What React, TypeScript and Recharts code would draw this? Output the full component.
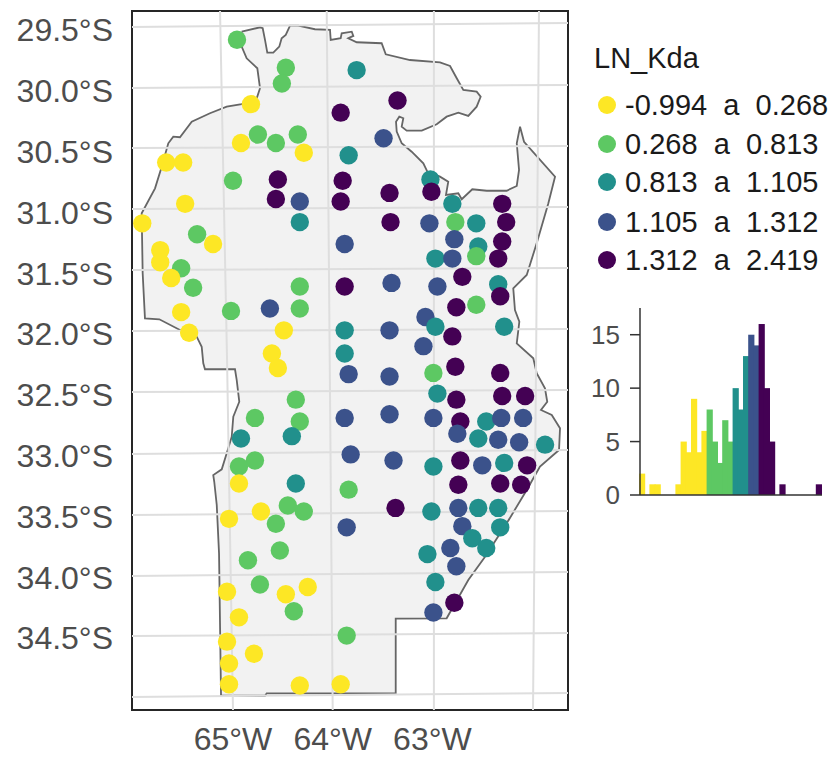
import { Bar, BarChart, Cell, ReferenceArea, Scatter, ScatterChart, XAxis, YAxis } from "recharts";

const FONT = "'Liberation Sans', Arial, sans-serif";
const AXIS_TEXT = "#4d4d4d";

const binColors = ["#FDE725", "#5DC863", "#21908C", "#3B528B", "#440154"];
const binLabels = ["-0.994  a  0.268", "0.268  a  0.813", "0.813  a  1.105", "1.105  a  1.312", "1.312  a  2.419"];

const latTicks = [-29.5, -30, -30.5, -31, -31.5, -32, -32.5, -33, -33.5, -34, -34.5];
const lonTicks = [-65, -64, -63];

// lon, lat, bin - in drawing order
const stations: [number, number, number][] = [
  [-64.96, -29.58, 1], [-64.47, -29.81, 1], [-64.51, -29.94, 1], [-64.82, -30.11, 0], [-63.92, -30.18, 4],
  [-64.75, -30.36, 1], [-64.92, -30.43, 0], [-64.57, -30.43, 1], [-64.35, -30.36, 1], [-64.29, -30.51, 0],
  [-63.84, -30.53, 2], [-65.67, -30.59, 0], [-65.5, -30.59, 0], [-65.0, -30.74, 1], [-64.55, -30.73, 4],
  [-63.9, -30.74, 4], [-64.57, -30.89, 4], [-64.33, -30.91, 3], [-63.92, -30.91, 4], [-65.48, -30.93, 0],
  [-64.33, -31.08, 2], [-65.91, -31.09, 0], [-65.36, -31.18, 1], [-65.2, -31.26, 0], [-63.88, -31.26, 3],
  [-65.73, -31.31, 0], [-65.52, -31.46, 1], [-65.73, -31.41, 0], [-65.62, -31.54, 0], [-65.4, -31.62, 1],
  [-64.33, -31.61, 1], [-63.88, -31.61, 4], [-65.52, -31.82, 0], [-65.02, -31.81, 1], [-64.63, -31.79, 3],
  [-64.33, -31.79, 1], [-63.88, -31.97, 2], [-65.44, -31.99, 0], [-64.49, -31.97, 0], [-64.61, -32.16, 0],
  [-63.88, -32.16, 2], [-63.76, -29.83, 2], [-63.35, -30.08, 4], [-63.49, -30.39, 3], [-63.02, -30.73, 2],
  [-63.01, -30.83, 4], [-63.43, -30.84, 4], [-62.8, -30.93, 2], [-62.3, -30.93, 4], [-63.42, -31.08, 4],
  [-63.03, -31.09, 3], [-62.77, -31.08, 1], [-62.56, -31.09, 2], [-62.26, -31.08, 4], [-62.78, -31.22, 3],
  [-62.3, -31.24, 4], [-62.54, -31.28, 2], [-62.97, -31.38, 2], [-62.8, -31.38, 3], [-62.56, -31.36, 1],
  [-62.34, -31.38, 4], [-62.7, -31.53, 4], [-63.41, -31.58, 3], [-62.95, -31.61, 3], [-62.34, -31.59, 2],
  [-62.32, -31.69, 4], [-62.76, -31.78, 4], [-62.56, -31.76, 1], [-63.07, -31.86, 3], [-62.97, -31.94, 2],
  [-62.28, -31.94, 2], [-63.43, -31.97, 3], [-62.8, -32.02, 4], [-63.09, -32.1, 3], [-64.55, -32.28, 0],
  [-63.84, -32.33, 3], [-64.37, -32.54, 1], [-63.88, -32.69, 3], [-64.78, -32.69, 1], [-64.33, -32.72, 1],
  [-64.92, -32.86, 2], [-64.41, -32.84, 2], [-63.82, -32.99, 3], [-64.78, -33.04, 1], [-64.94, -33.09, 1],
  [-64.94, -33.23, 0], [-64.37, -33.23, 2], [-63.84, -33.28, 1], [-64.45, -33.41, 1], [-64.29, -33.46, 1],
  [-64.72, -33.46, 0], [-65.04, -33.52, 0], [-64.57, -33.56, 1], [-63.86, -33.59, 3], [-64.53, -33.78, 1],
  [-64.85, -33.86, 1], [-64.73, -34.06, 1], [-64.25, -34.08, 0], [-64.47, -34.14, 0], [-65.06, -34.12, 0],
  [-64.39, -34.28, 1], [-64.94, -34.33, 0], [-63.86, -34.48, 1], [-65.06, -34.53, 0], [-64.79, -34.63, 0],
  [-65.04, -34.71, 0], [-65.04, -34.88, 0], [-64.33, -34.89, 0], [-63.92, -34.88, 0], [-63.43, -32.35, 3],
  [-62.99, -32.32, 1], [-62.77, -32.27, 4], [-62.32, -32.32, 4], [-62.95, -32.49, 2], [-62.76, -32.54, 4],
  [-62.3, -32.51, 4], [-62.07, -32.51, 4], [-63.43, -32.66, 3], [-62.99, -32.69, 3], [-62.72, -32.72, 4],
  [-62.46, -32.72, 2], [-62.31, -32.69, 3], [-62.09, -32.69, 3], [-62.75, -32.82, 3], [-62.54, -32.86, 2],
  [-62.34, -32.87, 3], [-62.13, -32.89, 3], [-61.87, -32.91, 2], [-63.39, -33.04, 3], [-62.72, -33.04, 4],
  [-62.5, -33.08, 3], [-62.28, -33.06, 2], [-62.05, -33.08, 4], [-62.99, -33.09, 2], [-62.74, -33.24, 4],
  [-62.32, -33.23, 4], [-62.11, -33.24, 4], [-63.37, -33.43, 4], [-63.01, -33.46, 2], [-62.74, -33.43, 3],
  [-62.54, -33.43, 2], [-62.34, -33.43, 2], [-62.7, -33.58, 3], [-62.32, -33.59, 2], [-62.6, -33.68, 2],
  [-62.82, -33.76, 3], [-62.46, -33.76, 2], [-63.05, -33.81, 2], [-62.76, -33.91, 3], [-62.97, -34.04, 2],
  [-62.78, -34.21, 4], [-62.99, -34.29, 3],
];

// province outline, clockwise from the north-west corner
const outline: [number, number][] = [
  [-64.913, -29.514], [-64.729, -29.478], [-64.702, -29.486], [-64.679, -29.582], [-64.656, -29.687],
  [-64.596, -29.687], [-64.536, -29.637], [-64.512, -29.568], [-64.471, -29.541], [-64.428, -29.465],
  [-64.345, -29.465], [-64.178, -29.494], [-64.027, -29.5], [-64.02, -29.582], [-63.92, -29.568],
  [-63.91, -29.527], [-63.809, -29.514], [-63.793, -29.549], [-63.844, -29.568], [-63.759, -29.601],
  [-63.509, -29.609], [-63.468, -29.7], [-63.225, -29.747], [-62.924, -29.766], [-62.823, -29.796],
  [-62.756, -29.897], [-62.69, -29.993], [-62.556, -30.007], [-62.516, -30.049], [-62.556, -30.131],
  [-62.64, -30.207], [-62.74, -30.18], [-62.857, -30.213], [-62.957, -30.276], [-63.107, -30.328],
  [-63.258, -30.328], [-63.308, -30.295], [-63.292, -30.226], [-63.332, -30.213], [-63.365, -30.254],
  [-63.358, -30.336], [-63.308, -30.432], [-63.208, -30.501], [-63.091, -30.596], [-63.051, -30.665],
  [-62.924, -30.706], [-62.841, -30.748], [-62.864, -30.857], [-62.74, -30.843], [-62.706, -30.892],
  [-62.6, -30.81], [-62.455, -30.822], [-62.255, -30.822], [-62.154, -30.783], [-62.131, -30.651],
  [-62.154, -30.432], [-62.121, -30.295], [-62.081, -30.419], [-61.77, -30.706], [-61.837, -30.925],
  [-61.954, -31.254], [-62.054, -31.515], [-62.189, -31.624], [-62.172, -31.803], [-62.128, -31.899],
  [-62.154, -32.077], [-61.988, -32.2], [-61.954, -32.323], [-61.871, -32.447], [-61.848, -32.557],
  [-61.911, -32.625], [-61.803, -32.666], [-61.72, -32.776], [-61.73, -32.954], [-61.921, -33.091],
  [-62.054, -33.283], [-62.255, -33.557], [-62.472, -33.832], [-62.64, -34.023], [-62.857, -34.338],
  [-63.368, -34.341], [-63.368, -34.955], [-64.662, -34.955], [-64.679, -34.975], [-65.12, -34.975],
  [-65.14, -33.804], [-65.163, -33.406], [-65.188, -33.215], [-65.198, -33.16], [-65.113, -33.113],
  [-65.063, -32.981], [-65.013, -32.845], [-64.997, -32.68], [-64.937, -32.557], [-64.963, -32.378],
  [-64.98, -32.29], [-65.281, -32.29], [-65.298, -32.241], [-65.314, -32.105], [-65.364, -32.022],
  [-65.532, -31.967], [-65.739, -31.879], [-65.883, -31.871], [-65.906, -31.501], [-65.916, -31.007],
  [-65.782, -30.802], [-65.715, -30.624], [-65.649, -30.432], [-65.599, -30.377], [-65.532, -30.382],
  [-65.414, -30.254], [-65.231, -30.185], [-65.063, -30.131], [-64.913, -30.109], [-64.762, -30.062],
  [-64.729, -29.979], [-64.756, -29.815], [-64.863, -29.733], [-64.913, -29.637], [-64.913, -29.514],
];

const lonDomain: [number, number] = [-66.013, -61.64];
const latDomain: [number, number] = [-35.092, -29.344];

// graticule as drawn in the picture: parallels [lat at west edge, lat at east edge]
const parallels: [number, number][] = [
  [-29.475, -29.442], [-29.977, -29.952], [-30.47, -30.454], [-30.972, -30.956], [-31.474, -31.457],
  [-31.975, -31.959], [-32.477, -32.461], [-32.987, -32.954], [-33.489, -33.456], [-33.99, -33.957],
  [-34.484, -34.459], [-34.985, -34.952],
];
// meridians [lon at top, lon at middle, lon at bottom]
const meridians: [number, number, number][] = [
  [-65.13, -65.06, -65.0],
  [-64.06, -64.03, -64.0],
  [-62.985, -62.985, -62.985],
  [-61.931, -61.96, -61.991],
];

const histCounts = [2, 0, 1, 1, 0, 0, 0, 1, 5, 4, 9, 4, 6, 8, 5, 3, 7, 5, 10, 8, 13, 15, 14, 16, 10, 5, 0, 1, 0, 0, 0, 0, 0, 0, 1];
const histBins = [0, 0, 0, 0, 0, 0, 0, 0, 0, 0, 0, 0, 0, 1, 1, 1, 1, 1, 2, 2, 2, 3, 3, 4, 4, 4, 4, 4, 4, 4, 4, 4, 4, 4, 4];
const histTicks = [0, 5, 10, 15];

const stationRows = stations.map(([lon, lat, bin]) => ({ lon, lat, bin }));
const outlineRows = outline.map(([lon, lat]) => ({ lon, lat }));
const histRows = histCounts.map((count, i) => ({ i, count }));

const gridStyle = { stroke: "#dedede", strokeWidth: 2 };

const StationDot = (props: any) => (
  <circle cx={props.cx} cy={props.cy} r={9.2} fill={binColors[props.payload.bin]} />
);
const NoDot = () => null;

// bars are narrower than the band after rounding, so close the seams
const HistBar = (props: any) => (
  <rect x={props.x - 1} y={props.y} width={props.width + 1.2} height={props.height} fill={props.fill} />
);

export default function App() {
  return (
    <div style={{ position: "absolute", left: 0, top: 0, width: 831, height: 758, background: "#fff", fontFamily: FONT, overflow: "hidden" }}>
      <ScatterChart width={831} height={758} margin={{ top: 11, right: 263, bottom: 0, left: 0 }} style={{ position: "absolute", left: 0, top: 0 }}>
        <XAxis
          type="number"
          dataKey="lon"
          domain={lonDomain}
          ticks={lonTicks}
          allowDataOverflow
          height={48}
          axisLine={false}
          tickLine={false}
          tickSize={0}
          tickMargin={17}
          tick={{ fill: AXIS_TEXT, fontSize: 32, fontFamily: FONT }}
          tickFormatter={(v: number) => `${Math.abs(v)}°W`}
          interval={0}
        />
        <YAxis
          type="number"
          dataKey="lat"
          domain={latDomain}
          ticks={latTicks}
          allowDataOverflow
          width={132}
          axisLine={false}
          tickLine={false}
          tickSize={0}
          tickMargin={19}
          tick={{ fill: AXIS_TEXT, fontSize: 32, fontFamily: FONT }}
          tickFormatter={(v: number) => `${Math.abs(v).toFixed(1)}°S`}
          interval={0}
        />
        <Scatter data={outlineRows} isAnimationActive={false} shape={NoDot} line={{ stroke: "#666", strokeWidth: 1.8, fill: "#f2f2f2" }} lineType="joint" />
        {parallels.map(([west, east], i) => (
          <Scatter
            key={`p${i}`}
            data={[{ lon: lonDomain[0], lat: west }, { lon: lonDomain[1], lat: east }]}
            isAnimationActive={false}
            shape={NoDot}
            line={gridStyle}
            lineType="joint"
          />
        ))}
        {meridians.map(([top, mid, bottom], i) => (
          <Scatter
            key={`m${i}`}
            data={[{ lon: top, lat: latDomain[1] }, { lon: mid, lat: -32.2 }, { lon: bottom, lat: latDomain[0] }]}
            isAnimationActive={false}
            shape={NoDot}
            line={gridStyle}
            lineType="joint"
          />
        ))}
        <Scatter data={stationRows} isAnimationActive={false} shape={StationDot} />
        <ReferenceArea x1={lonDomain[0]} x2={lonDomain[1]} y1={latDomain[0]} y2={latDomain[1]} fill="none" stroke="#262626" strokeWidth={2} />
      </ScatterChart>

      <div style={{ position: "absolute", left: 594, top: 41, fontSize: 29, lineHeight: "34px", color: "#1a1a1a" }}>LN_Kda</div>
      {binLabels.map((label, i) => (
        <div key={label} style={{ position: "absolute", left: 0, top: [105, 144, 182, 222, 260][i] - 17, height: 34 }}>
          <div style={{ position: "absolute", left: 598, top: 8, width: 18, height: 18, borderRadius: 9, background: binColors[i] }} />
          <div style={{ position: "absolute", left: 625, top: 0, fontSize: 29, lineHeight: "34px", whiteSpace: "pre", color: "#1a1a1a" }}>{label}</div>
        </div>
      ))}

      <BarChart
        width={251}
        height={210}
        data={histRows}
        barCategoryGap={0}
        margin={{ top: 8, right: 9, bottom: 14, left: 0 }}
        style={{ position: "absolute", left: 580, top: 300 }}
      >
        <XAxis dataKey="i" height={1} tick={false} tickLine={false} axisLine={{ stroke: "#333", strokeWidth: 1.5 }} />
        <YAxis
          domain={[0, 17.5]}
          ticks={histTicks}
          width={60}
          tickSize={10}
          tickMargin={10}
          axisLine={{ stroke: "#333", strokeWidth: 1.5 }}
          tickLine={{ stroke: "#333", strokeWidth: 1.5 }}
          tick={{ fill: AXIS_TEXT, fontSize: 26, fontFamily: FONT }}
          interval={0}
        />
        <Bar dataKey="count" isAnimationActive={false} shape={HistBar}>
          {histRows.map((row) => (
            <Cell key={row.i} fill={binColors[histBins[row.i]]} />
          ))}
        </Bar>
      </BarChart>
    </div>
  );
}
